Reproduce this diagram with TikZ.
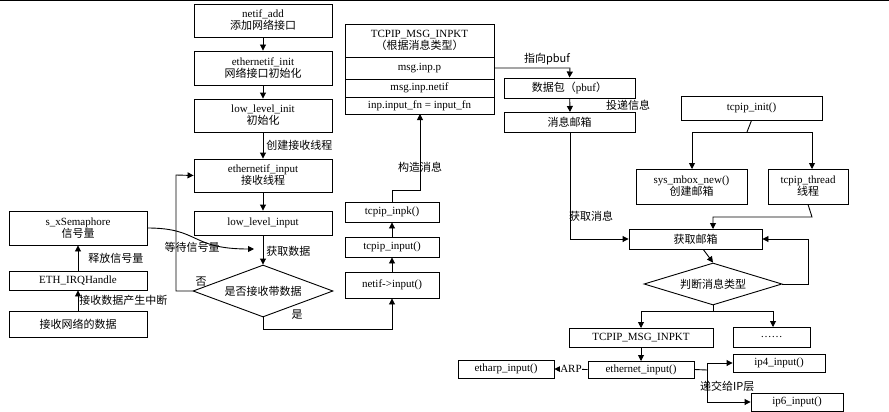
\documentclass[tikz,border=0pt]{standalone}
\usepackage{fontspec}
\setmainfont{Liberation Serif}
\newfontfamily\cjk{Noto Sans CJK SC}
\usetikzlibrary{shapes.geometric,arrows.meta}
\begin{document}
\begin{tikzpicture}[x=1pt,y=-1pt,
  every node/.style={font=\fontsize{11}{12}\selectfont, inner sep=0pt, align=center},
  box/.style={draw, line width=0.9pt},
  dia/.style={draw, line width=0.9pt, diamond, aspect=2.6},
  lab/.style={font=\cjk\fontsize{11}{12}\selectfont},
  line/.style={draw, line width=0.9pt},
  arr/.style={line, -{Triangle[length=6pt,width=6pt]}}]
\useasboundingbox (0,0) rectangle (889,412);
\draw[line width=1.2pt] (0,0.6) -- (889,0.6);
\newcommand{\bx}[6]{\node[box, minimum width=#4-#2, minimum height=#5-#3] (#1) at ({(#2+#4)/2},{(#3+#5)/2}) {#6};}
% left column
\bx{na}{194}{4}{332}{37}{netif\_add\\{\cjk 添加网络接口}}
\bx{ei}{194}{51}{332}{85}{ethernetif\_init\\{\cjk 网络接口初始化}}
\bx{li}{194}{99}{332}{132}{low\_level\_init\\{\cjk 初始化}}
\bx{ein}{194}{159}{332}{192}{ethernetif\_input\\{\cjk 接收线程}}
\bx{lli}{194}{211}{332}{235}{low\_level\_input}
\node[dia, minimum width=140, minimum height=52] (d1) at (263,291) {\cjk 是否接收带数据};
\bx{sem}{9}{211}{147}{245}{s\_xSemaphore\\{\cjk 信号量}}
\bx{irq}{9}{271}{147}{290}{ETH\_IRQHandle}
\bx{rcv}{9}{311}{147}{337}{\cjk 接收网络的数据}
\bx{inpk}{345}{202}{439}{222}{tcpip\_inpk()}
\bx{tin}{345}{237}{439}{257}{tcpip\_input()}
\bx{nin}{345}{272}{439}{298}{netif->input()}
% stack
\bx{s1}{345}{24}{494}{57}{TCPIP\_MSG\_INPKT\\{\cjk （根据消息类型）}}
\bx{s2}{345}{57}{494}{79}{msg.inp.p}
\bx{s3}{345}{79}{494}{97}{msg.inp.netif}
\bx{s4}{345}{97}{494}{114}{inp.input\_fn = input\_fn}
\bx{pb}{504}{78}{635}{98}{{\cjk 数据包（}pbuf{\cjk ）}}
\bx{mb}{504}{112}{635}{132}{\cjk 消息邮箱}
\bx{ti}{681}{96}{822}{120}{tcpip\_init()}
\bx{smn}{636}{169}{747}{204}{sys\_mbox\_new()\\{\cjk 创建邮箱}}
\bx{tt}{768}{169}{848}{204}{tcpip\_thread\\{\cjk 线程}}
\bx{gm}{629}{229}{762}{249}{\cjk 获取邮箱}
\node[dia, minimum width=138, minimum height=42] (d2) at (713,284) {\cjk 判断消息类型};
\bx{tmi}{569}{328}{713}{347}{TCPIP\_MSG\_INPKT}
\bx{dots}{733}{327}{810}{347}{……}
\bx{eth}{458}{360}{554}{378}{etharp\_input()}
\bx{een}{588}{361}{694}{378}{ethernet\_input()}
\bx{ip4}{733}{354}{825}{372}{ip4\_input()}
\bx{ip6}{751}{393}{843}{411}{ip6\_input()}
% connectors left
\draw[arr] (na) -- (ei);
\draw[arr] (ei) -- (li);
\draw[arr] (li) -- (ein) node[lab, midway, right=3pt] {创建接收线程};
\draw[arr] (ein) -- (lli);
\draw[arr] (lli) -- (d1.north) node[lab, pos=0.55, right=3pt] {获取数据};
\draw[arr] (d1.west) -- (176,291) -- (176,175) -- (ein.west);
\node[lab] at (201,282) {否};
\draw[arr] (d1.south) -- (263,329) -- (392,329) -- (nin.south);
\node[lab] at (297,315) {是};
\draw[arr] (sem.east) .. controls (200,228) and (190,249) .. (254,249);
\node[lab] at (192,247) {等待信号量};
\draw[arr] (irq) -- (sem) node[lab, midway, right=10pt] {释放信号量};
\draw[arr] (rcv) -- (irq) node[lab, midway, right=1pt] {接收数据产生中断};
\draw[arr] (nin) -- (tin);
\draw[arr] (tin) -- (inpk);
\draw[arr] (inpk.north) -- (392,190) -- (420,190) -- (420,114);
\node[lab] at (420,167) {构造消息};
% right
\draw[arr] (s2.east) -- (570,68) -- (pb.north);
\node[lab] at (547,59) {指向pbuf};
\draw[arr] (pb) -- (570,112) ;
\node[lab] at (628,105) {投递信息};
\draw[arr] (570,132) -- (570,239) -- (gm.west);
\node[lab] at (591,216) {获取消息};
\draw[line] (ti.south) -- (747,132);
\draw[arr] (692,132) -- (692,169);
\draw[arr] (812,132) -- (812,169);
\draw[line] (692,132) -- (812,132);
\draw[arr] (tt.south) -- (812,217) -- (713,217) -- (713,229);
\draw[arr] (gm) -- (d2.north);
\draw[arr] (d2.east) -- (808,284) -- (808,239) -- (gm.east);
\draw[line] (d2.south) -- (713,311);
\draw[line] (641,311) -- (773,311);
\draw[arr] (641,311) -- (641,328);
\draw[arr] (773,311) -- (773,327);
\draw[arr] (tmi) -- (641,361);
\draw[arr] (een.west) -- (eth.east);
\node[fill=white, inner sep=0.5pt] at (571,369) {ARP};
\draw[line] (een.east) -- (707,370);
\draw[arr] (707,370) -- (707,363) -- (ip4.west);
\draw[arr] (707,370) -- (707,402) -- (ip6.west);
\node[lab, anchor=west] at (700,386) {递交给IP层};
\end{tikzpicture}
\end{document}
